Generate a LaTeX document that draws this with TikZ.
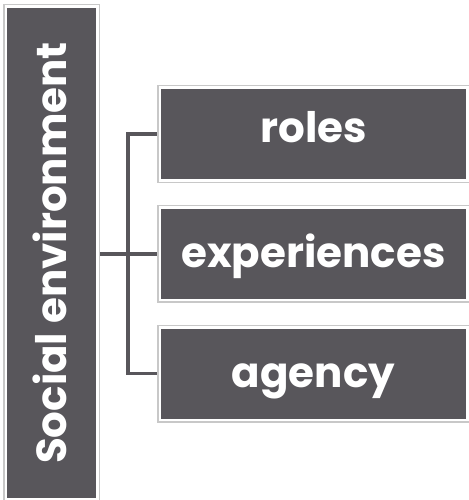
\documentclass[tikz,border=0pt]{standalone}
\usepackage{fontspec}
\setmainfont{Poppins}
\usepackage{tikz}
\usepackage{xcolor}
\usetikzlibrary{positioning, backgrounds}
\definecolor{cBox}{RGB}{88,86,91}
\definecolor{cFrame}{RGB}{200,200,200}
\tikzset{
	% dark boxes: white gap, then a thin light frame round them
	blk/.style ={rectangle, fill=cBox, draw=white, line width=2.5pt, preaction={draw=cFrame, line width=5.5pt}, inner sep=0pt, text=white, font=\bfseries\fontsize{42}{42}\selectfont, minimum width=307.5pt, minimum height=92.5pt, text height=27pt, text depth=0pt},
	sidebox/.style={blk, rotate=90, font=\bfseries\fontsize{42}{42}\selectfont, minimum width=492.5pt, minimum height=91.5pt, text height=29pt},
	link/.style ={draw=cBox, line width=3.5pt},
}

\begin{document}
\begin{tikzpicture}[x=1pt, y=-1pt]
	\useasboundingbox (0,0) rectangle (468,500);
	\node[sidebox] (social) at (51.5,253) {Social environment};
	\node[blk, text height=16pt] (roles) at (313.5,134) {roles};
	\node[blk, below=24.75pt of roles] (experiences) {experiences};
	\node[blk, below=24.75pt of experiences] (agency) {agency};
	\coordinate (bus) at (128,251.6);
	\begin{scope}[on background layer]
		\draw[link] (social.south |- experiences.west) -- (experiences.west);
		\draw[link] (roles.west) -| (bus) |- (agency.west);
	\end{scope}
\end{tikzpicture}
\end{document}
